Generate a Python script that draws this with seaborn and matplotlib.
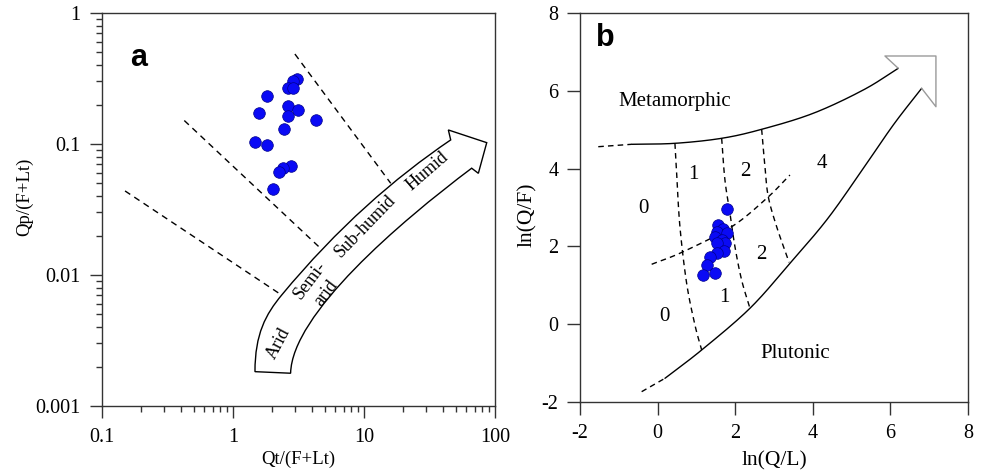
import numpy as np
import pandas as pd
import matplotlib
matplotlib.use("Agg")
import matplotlib.pyplot as plt
import matplotlib.ticker as mticker
from matplotlib.path import Path
from matplotlib.patches import PathPatch
import seaborn as sns

# ---------------- data ----------------
# Panel a: Qt/(F+Lt) vs Qp/(F+Lt)
qt_fl = [3.06, 2.86, 2.64, 2.89, 1.81, 2.64, 3.12, 1.59, 2.64, 4.30, 2.45, 1.46, 1.83, 2.77, 2.42, 2.24, 2.03]
qp_fl = [0.313, 0.304, 0.266, 0.266, 0.232, 0.196, 0.182, 0.172, 0.164, 0.152, 0.129, 0.103, 0.0977, 0.0676, 0.0652, 0.0615, 0.0456]

# Panel b: ln(Q/L) vs ln(Q/F)
ln_ql = [1.79, 1.565, 1.693, 1.523, 1.781, 1.479, 1.652, 1.737, 1.523, 1.711, 1.523, 1.351, 1.286, 1.162, 1.479]
ln_qf = [2.95, 2.54, 2.447, 2.370, 2.337, 2.249, 2.165, 2.080, 2.080, 1.869, 1.843, 1.735, 1.522, 1.265, 1.329]

# Panel a climate boundary lines (dashed), endpoints
clim_x = [[0.150, 2.35], [0.425, 4.75], [2.97, 16.0]]
clim_y = [[0.0438, 0.00703], [0.151, 0.0157], [0.486, 0.0501]]

# Panel b field boundaries
meta_dash_x = [-1.528, -0.668]
meta_dash_y = [4.563, 4.625]
meta_x = [-0.668, 0.448, 1.652, 2.683, 4.013, 5.302, 6.204]
meta_y = [4.625, 4.650, 4.779, 5.010, 5.422, 6.021, 6.578]
plut_dash_x = [-0.410, 0.191]
plut_dash_y = [-1.735, -1.391]
plut_x = [0.191, 1.137, 2.381, 3.412, 4.358, 5.216, 6.075, 6.807]
plut_y = [-1.391, -0.663, 0.409, 1.565, 2.679, 3.879, 5.121, 6.064]
head_x = [6.204, 5.861, 7.175, 7.175, 6.807]
head_y = [6.578, 6.895, 6.895, 5.591, 6.064]
v1_x = [0.448, 0.492, 0.577, 0.750, 0.964, 1.137]
v1_y = [4.650, 3.879, 2.506, 1.051, -0.021, -0.663]
v2_x = [1.652, 1.737, 1.866, 1.995, 2.167, 2.381]
v2_y = [4.779, 3.707, 2.851, 1.992, 1.136, 0.409]
v3_x = [2.683, 2.768, 2.854, 3.070, 3.390]
v3_y = [5.010, 4.049, 3.278, 2.506, 1.590]
h_x = [-0.152, 0.662, 1.910, 2.812, 3.412]
h_y = [1.540, 1.864, 2.506, 3.236, 3.835]

# ---------------- style ----------------
sns.set_theme(style="ticks")
plt.rcParams['font.family'] = ['Liberation Serif', 'DejaVu Serif']
plt.rcParams['axes.unicode_minus'] = False
plt.rcParams['text.color'] = 'black'
plt.rcParams['axes.labelcolor'] = 'black'
plt.rcParams['axes.edgecolor'] = '#333333'
plt.rcParams['axes.linewidth'] = 1.0
plt.rcParams['xtick.color'] = '#333333'
plt.rcParams['ytick.color'] = '#333333'
plt.rcParams['xtick.labelcolor'] = 'black'
plt.rcParams['ytick.labelcolor'] = 'black'

BLUE = '#0a0af5'
EDGE = '#00008a'


def smooth(xs, ys, n=25):
    pts = np.column_stack([xs, ys]).astype(float)
    P = np.vstack([pts[0] * 2 - pts[1], pts, pts[-1] * 2 - pts[-2]])
    out = []
    t = np.linspace(0, 1, n, endpoint=False)[:, None]
    for i in range(1, len(P) - 2):
        p0, p1, p2, p3 = P[i - 1], P[i], P[i + 1], P[i + 2]
        out.append(0.5 * ((2 * p1) + (-p0 + p2) * t + (2 * p0 - 5 * p1 + 4 * p2 - p3) * t ** 2
                          + (-p0 + 3 * p1 - 3 * p2 + p3) * t ** 3))
    out.append(pts[-1:])
    a = np.vstack(out)
    return a[:, 0], a[:, 1]


fig = plt.figure(figsize=(9.88, 4.75), dpi=100)
axa = fig.add_axes([0.1032, 0.1453, 0.3978, 0.8274])
axb = fig.add_axes([0.5870, 0.1537, 0.3927, 0.8189])

# ================= Panel a =================
axa.set_xscale('log')
axa.set_yscale('log')
axa.set_xlim(0.1, 100)
axa.set_ylim(0.001, 1)

for xs, ys in zip(clim_x, clim_y):
    axa.plot(xs, ys, color='black', lw=1.0, ls=(0, (4.5, 3.5)))

# curved arrow (defined in log10 space)
verts = [
    (0.168, -2.738),
    (0.168, -2.45), (0.25, -2.30), (0.372, -2.153),
    (0.80, -1.637), (1.232, -1.261), (1.662, -0.969),
    (1.644, -0.893),
    (1.937, -0.990),
    (1.873, -1.224),
    (1.822, -1.185),
    (1.272, -1.598), (0.45, -2.30), (0.440, -2.750),
    (0.168, -2.738),
]
codes = [Path.MOVETO,
         Path.CURVE4, Path.CURVE4, Path.CURVE4,
         Path.CURVE4, Path.CURVE4, Path.CURVE4,
         Path.LINETO, Path.LINETO, Path.LINETO, Path.LINETO,
         Path.CURVE4, Path.CURVE4, Path.CURVE4,
         Path.CLOSEPOLY]
arrow = PathPatch(Path(verts, codes), facecolor='white', edgecolor='black', lw=1.0,
                  transform=axa.transLimits + axa.transAxes, zorder=3)
axa.add_patch(arrow)

for txt, lx, ly, rot in [("Arid", 0.346, -2.521, 62), ("Semi-", 0.588, -2.043, 53),
                         ("arid", 0.708, -2.135, 53), ("Sub-humid", 1.013, -1.631, 46),
                         ("Humid", 1.483, -1.211, 41)]:
    axa.text(10 ** lx, 10 ** ly, txt, rotation=rot, ha='center', va='center',
             fontsize=13, zorder=4, rotation_mode='anchor')

dfa = pd.DataFrame({'x': qt_fl, 'y': qp_fl})
sns.scatterplot(data=dfa, x='x', y='y', ax=axa, s=70, color=BLUE, edgecolor=EDGE,
                linewidth=0.5, zorder=5, legend=False)

axa.xaxis.set_major_locator(mticker.FixedLocator([0.1, 1, 10, 100]))
axa.yaxis.set_major_locator(mticker.FixedLocator([0.001, 0.01, 0.1, 1]))
axa.xaxis.set_major_formatter(mticker.FuncFormatter(lambda v, p: f"{v:g}"))
axa.yaxis.set_major_formatter(mticker.FuncFormatter(lambda v, p: f"{v:g}"))
axa.xaxis.set_minor_locator(mticker.LogLocator(base=10, subs=np.arange(2, 10)))
axa.yaxis.set_minor_locator(mticker.LogLocator(base=10, subs=np.arange(2, 10)))
axa.xaxis.set_minor_formatter(mticker.NullFormatter())
axa.yaxis.set_minor_formatter(mticker.NullFormatter())
axa.tick_params(axis='both', which='major', direction='out', length=8.5, width=1.0,
                labelsize=14.5, pad=7)
axa.tick_params(axis='both', which='minor', direction='out', length=4.5, width=1.0)
axa.set_xlabel("Qt/(F+Lt)", fontsize=13.5, labelpad=3)
axa.set_ylabel("Qp/(F+Lt)", fontsize=13.5)
axa.yaxis.set_label_coords(-0.175, 0.531)
axa.text(0.093, 0.885, "a", transform=axa.transAxes, ha='center', va='center',
         fontsize=22, fontweight='bold', family=['Liberation Sans', 'DejaVu Sans'])
for s in axa.spines.values():
    s.set_visible(True)

# ================= Panel b =================
axb.set_xlim(-2, 8)
axb.set_ylim(-2, 8)

mx, my = smooth(meta_x, meta_y)
axb.plot(mx, my, color='black', lw=1.0)
axb.plot(meta_dash_x, meta_dash_y, color='black', lw=1.0, ls=(0, (4, 3)))
px, py = smooth(plut_x, plut_y)
axb.plot(px, py, color='black', lw=1.0)
axb.plot(plut_dash_x, plut_dash_y, color='black', lw=1.0, ls=(0, (4, 3)))
axb.plot(head_x, head_y, color='#9a9a9a', lw=1.0)
for xs, ys in [(v1_x, v1_y), (v2_x, v2_y), (v3_x, v3_y), (h_x, h_y)]:
    sx, sy = smooth(xs, ys)
    axb.plot(sx, sy, color='black', lw=1.0, ls=(0, (4, 3)))

dfb = pd.DataFrame({'x': ln_ql, 'y': ln_qf})
sns.scatterplot(data=dfb, x='x', y='y', ax=axb, s=70, color=BLUE, edgecolor=EDGE,
                linewidth=0.5, zorder=5, legend=False)

for txt, x, y in [("Metamorphic", 0.448, 5.72), ("Plutonic", 3.541, -0.748),
                  ("0", -0.369, 2.979), ("1", 0.920, 3.861), ("2", 2.253, 3.921),
                  ("4", 4.245, 4.136), ("2", 2.683, 1.779), ("1", 1.711, 0.681),
                  ("0", 0.165, 0.193)]:
    axb.text(x, y, txt, ha='center', va='center', fontsize=15)

axb.set_xticks([-2, 0, 2, 4, 6, 8])
axb.set_yticks([-2, 0, 2, 4, 6, 8])
axb.tick_params(axis='both', which='major', direction='out', length=9.5, width=1.0,
                labelsize=14.5, pad=6)
axb.set_xlabel("ln(Q/L)", fontsize=15.5, labelpad=6)
axb.set_ylabel("ln(Q/F)", fontsize=15.5)
axb.yaxis.set_label_coords(-0.111, 0.481)
axb.text(0.065, 0.935, "b", transform=axb.transAxes, ha='center', va='center',
         fontsize=22, fontweight='bold', family=['Liberation Sans', 'DejaVu Sans'])
for s in axb.spines.values():
    s.set_visible(True)

fig.savefig("out.png", dpi=100)
